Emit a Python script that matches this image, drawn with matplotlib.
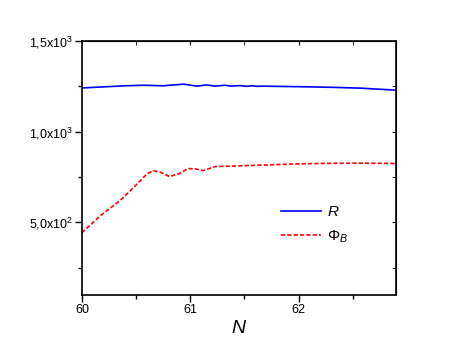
import numpy as np
from matplotlib import pyplot as plt
from matplotlib.ticker import FixedLocator, NullFormatter

plt.rcParams['font.family'] = ['Liberation Sans', 'DejaVu Sans']
plt.rcParams['mathtext.fontset'] = 'custom'
plt.rcParams['mathtext.rm'] = 'Liberation Sans'
plt.rcParams['mathtext.it'] = 'Liberation Sans:italic'
plt.rcParams['mathtext.default'] = 'regular'

# R curve
n_r = [60.0, 60.2, 60.4, 60.57, 60.75, 60.94, 61.06, 61.15, 61.23, 61.32,
       61.38, 61.46, 61.52, 61.57, 61.62, 61.67, 61.9, 62.11, 62.35, 62.57,
       62.75, 62.9]
r_val = [1241, 1247, 1253, 1256, 1253, 1262, 1251, 1258, 1251, 1256,
         1251, 1254, 1250, 1253, 1250, 1251, 1249, 1247, 1244, 1240,
         1234, 1229]

# Phi_B curve
n_p = [60.0, 60.08, 60.17, 60.26, 60.35, 60.43, 60.51, 60.6, 60.66, 60.72,
       60.81, 60.9, 60.98, 61.05, 61.12, 61.23, 61.4, 61.6, 61.8, 62.0,
       62.3, 62.6, 62.9]
p_val = [444, 487, 537, 578, 620, 665, 712, 767, 785, 778,
         753, 770, 797, 795, 786, 808, 811, 815, 819, 823,
         826, 827, 825]

fig = plt.figure(figsize=(4.6, 3.53), dpi=100)
ax = fig.add_axes([0.178, 0.164, 0.683, 0.72])

ax.plot(n_r, r_val, color='#0000ff', lw=1.2, label='$\\mathit{R}$')
ax.plot(n_p, p_val, color='#ff0000', lw=1.2, ls=(0, (2.5, 1.3)),
        label='$\\mathit{\\Phi_B}$')

ax.set_xlim(60, 62.9)
ax.set_ylim(100, 1500)
ax.set_xticks([60, 61, 62])
ax.set_xticklabels(['60', '61', '62'])
ax.xaxis.set_minor_locator(FixedLocator([60.5, 61.5, 62.5]))
ax.set_yticks([500, 1000, 1500])
ax.set_yticklabels(['5,0x10$^2$', '1,0x10$^3$', '1,5x10$^3$'])
ax.yaxis.set_minor_locator(FixedLocator([250, 750, 1250]))
ax.tick_params(which='major', direction='out', length=5, width=1,
               labelsize=9, pad=1.5)
ax.tick_params(which='minor', direction='out', length=3, width=1)

for s in ax.spines.values():
    s.set_linewidth(1.2)

# mirrored ticks inside on top and right
top = ax.secondary_xaxis('top')
top.set_xticks([60, 61, 62])
top.xaxis.set_minor_locator(FixedLocator([60.5, 61.5, 62.5]))
top.tick_params(which='both', direction='in', length=3, labeltop=False)
top.xaxis.set_major_formatter(NullFormatter())
right = ax.secondary_yaxis('right')
right.set_yticks([500, 1000, 1500])
right.yaxis.set_minor_locator(FixedLocator([250, 750, 1250]))
right.tick_params(which='both', direction='in', length=3, labelright=False)
right.yaxis.set_major_formatter(NullFormatter())

ax.set_xlabel('$\\mathit{N}$', fontsize=14, labelpad=3)

ax.legend(loc='center left', bbox_to_anchor=(0.615, 0.275), frameon=False,
          fontsize=11, handlelength=2.6, labelspacing=0.6, borderaxespad=0,
          handletextpad=0.4)

fig.savefig('out.png', dpi=100)
